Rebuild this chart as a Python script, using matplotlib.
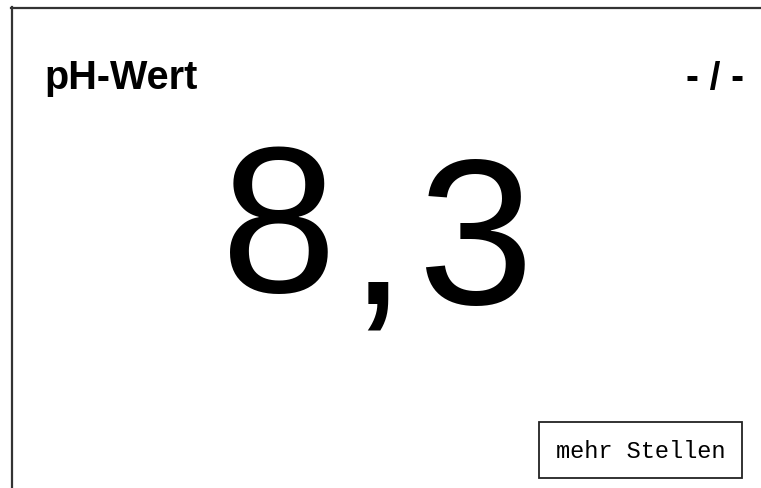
import matplotlib.pyplot as plt
from matplotlib.patches import Rectangle

# display content
title = 'pH-Wert'
status = '- / -'
value = 8.3
button_label = 'mehr Stellen'

W, H = 761, 489
fig = plt.figure(figsize=(W / 100, H / 100), dpi=100)
ax = fig.add_axes([0, 0, 1, 1])
ax.set_xlim(0, W)
ax.set_ylim(H, 0)
ax.axis('off')

# panel frame (only left and top edges are visible)
ax.plot([11.5, 11.5], [H, 8], color='#333333', lw=1.6)
ax.plot([11, W], [8.5, 8.5], color='#333333', lw=1.6)

ax.text(44, 89, title, fontsize=28.5, fontweight='bold', family='Liberation Sans',
        ha='left', va='baseline')
ax.text(744, 89, status, fontsize=28, fontweight='bold', family='Liberation Sans',
        ha='right', va='baseline')

# big value, drawn char by char with wide letter spacing;
# the decimal part sits a little lower than the integer part
value_text = f'{value:.1f}'.replace('.', ',')
tracking = 11
x = 221
fig.canvas.draw()
for i, ch in enumerate(value_text):
    y = 292 if i == 0 else 304
    t = ax.text(x, y, ch, fontsize=150, family='Liberation Sans',
                ha='left', va='baseline')
    bb = t.get_window_extent(renderer=fig.canvas.get_renderer())
    x += bb.width + tracking

ax.add_patch(Rectangle((539, 423), 203, 56, fill=False, edgecolor='#222222', lw=1.3))
ax.text(640.5, 451, button_label, fontsize=17, family='Liberation Mono',
        ha='center', va='center')

fig.savefig('out.png', dpi=100)
